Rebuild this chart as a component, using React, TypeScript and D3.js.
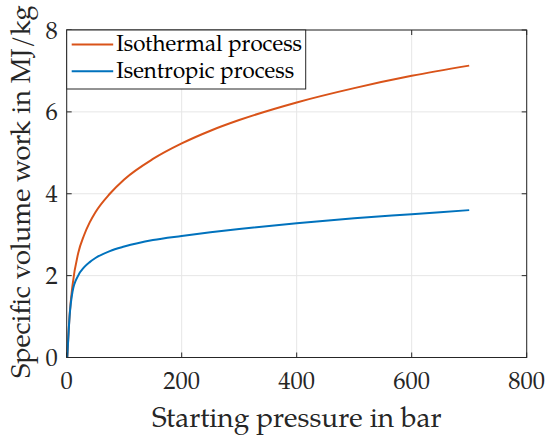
import React from "react";
import * as d3 from "d3";

// starting pressure in bar
const pressure = [1, 5, 10, 20, 30, 40, 50, 75, 100, 150, 200, 250, 300, 400, 500, 600, 700];
// specific volume work in MJ/kg
const isothermal = [0, 1.02, 1.75, 2.55, 2.98, 3.3, 3.55, 4.0, 4.35, 4.85, 5.23, 5.54, 5.8, 6.23, 6.58, 6.88, 7.13];
const isentropic = [0, 1.0, 1.6, 2.0, 2.2, 2.33, 2.43, 2.6, 2.71, 2.87, 2.97, 3.06, 3.14, 3.28, 3.4, 3.5, 3.6];

const seriesNames = ["Isothermal process", "Isentropic process"];
const seriesColors = ["#D95319", "#0072BD"];

const xTicks = [0, 200, 400, 600, 800];
const yTicks = [0, 2, 4, 6, 8];

const FONT = "'TeX Gyre Pagella', 'Liberation Serif', serif";
const AXIS = "#262626";

export default function App({
  width = 549,
  height = 439,
  marginTop = 30,
  marginRight = 22.3,
  marginBottom = 81.5,
  marginLeft = 66.7
}) {
  const x = d3.scaleLinear().domain([0, 800]).range([marginLeft, width - marginRight]);
  const y = d3.scaleLinear().domain([0, 8]).range([height - marginBottom, marginTop]);
  const x0 = marginLeft, x1 = width - marginRight;
  const y0 = height - marginBottom, y1 = marginTop;
  const tl = 5;

  const line = d3.line<number>()
    .x((d, i) => x(pressure[i]))
    .y(d => y(d))
    .curve(d3.curveMonotoneX);
  const series = [isothermal, isentropic];

  return (
    <svg
      width={width}
      height={height}
      style={{ position: "absolute", left: 0, top: 0, background: "white" }}
      fontFamily={FONT}
    >
      {/* grid */}
      <g stroke="#e6e6e6" strokeWidth={1}>
        {xTicks.map(t => <line key={"gx" + t} x1={x(t)} x2={x(t)} y1={y0} y2={y1} />)}
        {yTicks.map(t => <line key={"gy" + t} x1={x0} x2={x1} y1={y(t)} y2={y(t)} />)}
      </g>

      {/* data */}
      {series.map((s, k) => (
        <path key={k} d={line(s) || ""} fill="none" stroke={seriesColors[k]}
          strokeWidth={2} strokeLinejoin="round" />
      ))}

      {/* box and inward ticks */}
      <g stroke={AXIS} strokeWidth={1}>
        {xTicks.map(t => (
          <g key={"tx" + t}>
            <line x1={x(t)} x2={x(t)} y1={y0} y2={y0 - tl} />
            <line x1={x(t)} x2={x(t)} y1={y1} y2={y1 + tl} />
          </g>
        ))}
        {yTicks.map(t => (
          <g key={"ty" + t}>
            <line x1={x0} x2={x0 + tl} y1={y(t)} y2={y(t)} />
            <line x1={x1} x2={x1 - tl} y1={y(t)} y2={y(t)} />
          </g>
        ))}
        <rect x={x0} y={y1} width={x1 - x0} height={y0 - y1} fill="none" />
      </g>

      {/* tick labels */}
      <g fill={AXIS} fontSize={24.5}>
        {xTicks.map(t => (
          <text key={"lx" + t} x={x(t)} y={y0 + 31.5} textAnchor="middle">{t}</text>
        ))}
        {yTicks.map(t => (
          <text key={"ly" + t} x={x0 - 9} y={y(t)} dy="0.35em" textAnchor="end">{t}</text>
        ))}
      </g>

      {/* axis labels */}
      <text x={(x0 + x1) / 2} y={426.5} textAnchor="middle" fontSize={28} fill={AXIS}>
        Starting pressure in bar
      </text>
      <text transform={`translate(30, ${(y0 + y1) / 2 - 2}) rotate(-90)`}
        textAnchor="middle" fontSize={27.2} fill={AXIS}>
        Specific volume work in MJ/kg
      </text>

      {/* legend */}
      <g>
        <rect x={x0} y={y1} width={239} height={59} fill="white" stroke={AXIS} strokeWidth={1} />
        {seriesNames.map((name, k) => {
          const ly = y1 + 14.5 + k * 26.8;
          return (
            <g key={name}>
              <line x1={x0 + 5} x2={x0 + 46.5} y1={ly} y2={ly} stroke={seriesColors[k]} strokeWidth={2} />
              <text x={x0 + 49.5} y={ly + 6.5} fontSize={22.3} fill="#000">{name}</text>
            </g>
          );
        })}
      </g>
    </svg>
  );
}
